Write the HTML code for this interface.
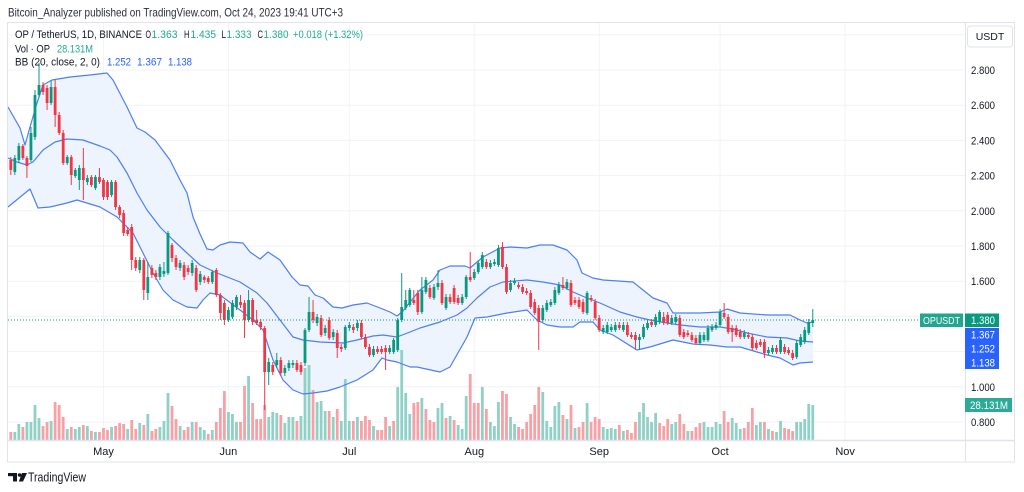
<!DOCTYPE html>
<html><head><meta charset="utf-8">
<style>
html,body{margin:0;padding:0;background:#fff;}
body{width:1024px;height:492px;overflow:hidden;}
svg{display:block;font-family:"Liberation Sans",Arial,sans-serif;}
</style></head><body>
<svg id="s" width="1024" height="492" viewBox="0 0 1024 492" xmlns="http://www.w3.org/2000/svg">
<rect x="0" y="0" width="1024" height="492" fill="#ffffff"/>
<text x="8" y="16.5" font-size="12" fill="#2a2e39" textLength="335" lengthAdjust="spacingAndGlyphs">Bitcoin_Analyzer published on TradingView.com, Oct 24, 2023 19:41 UTC+3</text>
<g stroke="#f0f3fa" stroke-width="1">
<line x1="7" x2="965" y1="34.8" y2="34.8"/><line x1="7" x2="965" y1="70" y2="70"/><line x1="7" x2="965" y1="105.2" y2="105.2"/><line x1="7" x2="965" y1="140.4" y2="140.4"/><line x1="7" x2="965" y1="175.6" y2="175.6"/><line x1="7" x2="965" y1="210.8" y2="210.8"/><line x1="7" x2="965" y1="246" y2="246"/><line x1="7" x2="965" y1="281.2" y2="281.2"/><line x1="7" x2="965" y1="316.4" y2="316.4"/><line x1="7" x2="965" y1="351.6" y2="351.6"/><line x1="7" x2="965" y1="386.8" y2="386.8"/><line x1="7" x2="965" y1="422" y2="422"/>
<line x1="103.5" x2="103.5" y1="22" y2="440"/><line x1="228.4" x2="228.4" y1="22" y2="440"/><line x1="349.3" x2="349.3" y1="22" y2="440"/><line x1="474.3" x2="474.3" y1="22" y2="440"/><line x1="599.2" x2="599.2" y1="22" y2="440"/><line x1="720.1" x2="720.1" y1="22" y2="440"/><line x1="845.1" x2="845.1" y1="22" y2="440"/>
</g>
<g id="dyn"></g>
<line x1="8" x2="920" y1="320" y2="320" stroke="#089981" stroke-width="1" stroke-dasharray="1 2"/>
<!-- frame -->
<rect x="7.5" y="22.5" width="1007" height="439.5" fill="none" stroke="#e0e3eb" stroke-width="1"/>
<line x1="965.5" x2="965.5" y1="22" y2="462" stroke="#e0e3eb" stroke-width="1"/>
<line x1="7" x2="1015" y1="440.5" y2="440.5" stroke="#e0e3eb" stroke-width="1.5"/>
<!-- legend -->
<g font-size="11" fill="#131722">
<text x="15" y="38" textLength="127" lengthAdjust="spacingAndGlyphs">OP / TetherUS, 1D, BINANCE</text>
<text x="145.5" y="38" textLength="5.5" lengthAdjust="spacingAndGlyphs">O</text><text x="151.5" y="38" fill="#22ab94" textLength="26" lengthAdjust="spacingAndGlyphs">1.363</text>
<text x="184" y="38" textLength="5.5" lengthAdjust="spacingAndGlyphs">H</text><text x="190.5" y="38" fill="#22ab94" textLength="25.5" lengthAdjust="spacingAndGlyphs">1.435</text>
<text x="221.5" y="38" textLength="4.5" lengthAdjust="spacingAndGlyphs">L</text><text x="226.5" y="38" fill="#22ab94" textLength="25" lengthAdjust="spacingAndGlyphs">1.333</text>
<text x="257.5" y="38" textLength="5.5" lengthAdjust="spacingAndGlyphs">C</text><text x="263.5" y="38" fill="#22ab94" textLength="25" lengthAdjust="spacingAndGlyphs">1.380</text>
<text x="293" y="38" fill="#22ab94" textLength="70" lengthAdjust="spacingAndGlyphs">+0.018 (+1.32%)</text>
<text x="15" y="52.5" textLength="35" lengthAdjust="spacingAndGlyphs">Vol · OP</text>
<text x="57" y="52.5" fill="#22ab94" textLength="36" lengthAdjust="spacingAndGlyphs">28.131M</text>
<text x="15" y="65.5" textLength="85" lengthAdjust="spacingAndGlyphs">BB (20, close, 2, 0)</text>
<text x="107" y="65.5" fill="#2962ff" textLength="24" lengthAdjust="spacingAndGlyphs">1.252</text>
<text x="137" y="65.5" fill="#2962ff" textLength="25" lengthAdjust="spacingAndGlyphs">1.367</text>
<text x="168" y="65.5" fill="#2962ff" textLength="24" lengthAdjust="spacingAndGlyphs">1.138</text>
</g>
<!-- price axis -->
<rect x="967.5" y="26" width="45" height="21" rx="3" fill="#fff" stroke="#e0e3eb"/>
<text x="990" y="40" font-size="10.5" fill="#131722" text-anchor="middle">USDT</text>
<g font-size="11" fill="#131722">
<text x="971" y="74" textLength="24" lengthAdjust="spacingAndGlyphs">2.800</text>
<text x="971" y="109.2" textLength="24" lengthAdjust="spacingAndGlyphs">2.600</text>
<text x="971" y="144.4" textLength="24" lengthAdjust="spacingAndGlyphs">2.400</text>
<text x="971" y="179.6" textLength="24" lengthAdjust="spacingAndGlyphs">2.200</text>
<text x="971" y="214.8" textLength="24" lengthAdjust="spacingAndGlyphs">2.000</text>
<text x="971" y="250" textLength="24" lengthAdjust="spacingAndGlyphs">1.800</text>
<text x="971" y="285.2" textLength="24" lengthAdjust="spacingAndGlyphs">1.600</text>
<text x="971" y="390.8" textLength="24" lengthAdjust="spacingAndGlyphs">1.000</text>
<text x="971" y="426" textLength="24" lengthAdjust="spacingAndGlyphs">0.800</text>
</g>
<rect x="920" y="313.5" width="43" height="13.5" fill="#22a68e"/>
<text x="941.5" y="324" font-size="10.5" fill="#fff" text-anchor="middle" textLength="37" lengthAdjust="spacingAndGlyphs">OPUSDT</text>
<rect x="965" y="313.5" width="34" height="13.5" fill="#089981"/>
<text x="971" y="324" font-size="11" fill="#fff" textLength="24" lengthAdjust="spacingAndGlyphs">1.380</text>
<rect x="965" y="328" width="34" height="41" fill="#2962ff"/>
<g font-size="11" fill="#fff">
<text x="971" y="338.5" textLength="24" lengthAdjust="spacingAndGlyphs">1.367</text>
<text x="971" y="352.5" textLength="24" lengthAdjust="spacingAndGlyphs">1.252</text>
<text x="971" y="366.5" textLength="24" lengthAdjust="spacingAndGlyphs">1.138</text>
</g>
<rect x="965" y="398" width="47" height="14" fill="#2bab96"/>
<text x="970" y="409" font-size="11" fill="#fff" textLength="38" lengthAdjust="spacingAndGlyphs">28.131M</text>
<!-- time axis -->
<g font-size="11" fill="#131722" text-anchor="middle">
<text x="103.5" y="455">May</text><text x="228.4" y="455">Jun</text><text x="349.3" y="455">Jul</text><text x="474.3" y="455">Aug</text><text x="599.2" y="455">Sep</text><text x="720.1" y="455">Oct</text><text x="845.1" y="455">Nov</text>
</g>
<!-- logo -->
<g fill="#131722">
<rect x="8" y="473" width="9" height="3.2"/><rect x="13" y="473" width="4" height="8.5"/>
<circle cx="19.6" cy="475" r="1.8"/>
<polygon points="22,473 27,473 23,481.5 18.8,481.5"/>
</g>
<text x="28" y="481.5" font-size="12.5" fill="#131722" textLength="58" lengthAdjust="spacingAndGlyphs">TradingView</text>
</svg>
<script>
(function(){
const X=i=>10.8+4.03*i;
const C=[
[0,160,170,157,175],[1,158,172,155,175],[1,146,160,143,163],[0,146,158,144,160],[0,158,166,156,178],[1,133,160,127,162],[1,95,137,90,140],[1,85,95,63,97],[0,85,92,82,95],[0,88,103,85,110],
[1,87,103,80,105],[0,87,115,80,127],[0,115,133,112,135],[0,133,163,130,165],[1,157,163,155,165],[0,157,175,155,185],[1,170,176,168,178],[1,168,180,165,190],[0,168,180,148,200],[1,178,182,175,185],
[0,177,185,175,187],[1,177,188,175,190],[0,177,182,168,184],[0,180,197,178,200],[0,182,197,180,200],[1,182,195,180,197],[0,182,207,180,210],[0,207,215,205,218],[0,213,233,210,236],[0,230,234,227,236],
[0,227,260,224,270],[0,260,268,257,271],[1,260,270,257,273],[0,260,290,258,300],[1,277,293,262,300],[0,268,275,265,278],[0,273,277,270,280],[1,267,277,264,280],[1,271,274,262,277],
[1,233,273,231,275],[0,245,258,243,262],[0,258,267,255,270],[1,263,268,260,271],[0,265,277,262,280],[0,268,272,265,275],[1,263,273,260,276],[0,268,290,265,292],[1,274,282,271,285],[0,277,280,275,283],
[0,278,282,276,284],[1,272,282,270,284],[0,270,295,268,297],[0,295,313,293,320],[0,303,320,300,325],[1,310,320,307,322],[1,303,317,300,319],[1,297,307,295,310],[0,302,305,295,308],[0,303,320,300,338],
[1,300,320,290,322],[0,300,322,298,325],[0,320,323,310,325],[0,322,327,319,330],
[0,328,372,326,410],[1,362,372,358,385],[0,365,372,362,375],[1,360,365,353,368],[0,360,373,357,376],[1,368,373,365,376],[1,363,368,360,371],[1,363,365,360,368],[0,363,370,360,372],[0,365,372,362,375],
[1,330,363,328,366],[1,312,330,297,332],[0,312,320,300,323],[1,317,323,314,326],[0,318,335,315,337],[1,328,333,325,336],[0,320,338,317,340],[1,332,337,329,340],[0,333,348,330,358],[0,347,349,344,352],
[1,327,348,325,350],[1,325,328,322,331],[0,327,330,324,333],[1,323,328,320,331],[0,323,337,320,339],[0,337,347,334,349],[0,347,355,344,357],[1,349,355,346,357],[0,349,352,346,354],[0,349,352,346,354],
[0,348,352,345,370],[1,348,352,345,354],[1,340,352,338,354],[1,320,350,318,352],[1,307,320,273,322],[1,300,308,290,310],
[1,290,305,288,307],[0,300,303,290,305],[0,293,312,290,315],[1,290,312,277,314],[1,280,292,277,294],[0,288,297,285,299],[1,287,298,284,300],[1,283,287,270,290],[0,283,303,280,305],[1,297,308,294,310],
[0,297,302,294,304],[0,288,302,285,304],[0,298,303,295,305],[1,297,303,294,305],[1,277,297,275,299],[0,277,280,252,282],[1,272,278,269,280],[1,263,272,260,274],[1,255,267,252,269],[0,262,267,259,269],
[1,263,267,260,269],[1,262,264,259,266],[1,248,265,245,267],[0,247,267,242,269],[0,267,292,264,294],[1,283,290,280,292],[1,281,283,278,285],[0,285,287,282,289],[0,287,292,284,294],[0,291,293,288,295],
[0,293,307,290,309],[0,302,313,299,315],[0,308,322,305,350],[1,308,320,305,322],[1,303,310,300,312],[1,302,305,299,307],[1,290,303,287,305],[1,285,293,282,295],[0,285,288,277,290],[1,282,288,279,290],
[0,283,305,280,307],[0,300,303,297,305],[0,300,307,297,309],[0,302,312,299,314],[1,293,313,291,315],[0,298,300,295,302],[0,302,318,299,320],[0,318,330,315,332],
[1,328,332,325,334],[1,325,332,322,334],[1,327,330,324,332],[1,325,330,322,332],[0,325,328,322,330],[1,325,330,322,332],[0,325,335,322,337],[0,335,337,332,339],[0,335,340,332,350],[1,337,340,334,350],
[1,327,337,324,339],[1,323,328,320,330],[0,322,325,319,327],[1,317,325,314,327],[1,312,322,310,324],[0,317,323,312,325],[0,315,323,312,325],[1,318,323,315,325],[1,317,322,314,324],[0,318,335,315,337],
[0,332,337,329,339],[0,333,335,330,337],[0,335,340,332,342],[0,338,343,335,345],[1,335,343,332,345],[1,335,340,332,342],[1,328,340,325,342],[1,327,330,324,332],[1,325,328,322,330],[1,312,325,309,327],
[0,313,317,303,319],[0,317,332,314,334],[0,328,332,325,342],[0,328,335,325,337],[0,332,337,329,339],[1,333,337,330,339],[0,335,337,332,339],[0,337,348,334,350],[0,343,348,340,350],[0,342,345,339,347],
[0,342,353,339,358],[1,350,353,347,355],[1,348,352,345,354],[0,348,352,345,354],[1,340,352,337,354],[0,347,352,344,354],[0,350,353,347,355],[0,353,358,350,360],[1,343,357,340,359],[1,337,345,334,347],
[1,330,342,327,344],[1,322,333,319,335],[1,320,323,309,327]
];
const V="432r,432g,424g,427r,422g,422g,405g,418g,426r,422r,421g,402r,405r,417r,429g,427r,429g,427g,425r,426g,431r,432g,432r,428r,430r,427g,426r,423r,424r,429g,420r,429r,423g,425r,414g,431r,429r,427g,421g,393g,406r,419r,426g,430r,427r,422g,422r,427g,430g,434r,430g,422r,408r,391r,412g,414g,422g,422r,386r,376g,"+
"403r,419r,419r,405r,417g,412g,413g,415r,423g,417g,417g,421r,416g,368g,365g,390r,402g,401g,411g,411r,417g,409r,421g,379g,421g,421r,417g,421r,416r,420r,426g,430r,430r,417r,426g,421r,387g,350g,393g,414g,403r,402r,398g,409r,420r,422r,408g,403g,418r,416g,420r,425g,429g,396g,374r,403r,403r,387g,409r,"+
"422g,426g,402g,391r,394r,417g,424g,427r,429r,422r,414r,405r,387r,392g,421g,427g,406g,402g,415r,419g,405r,428g,427r,422r,403g,422r,417r,419r,427g,429g,428g,429g,425r,431g,430r,433r,422r,412g,403g,417g,422g,413g,423r,426r,419r,424g,422g,414r,424r,431g,431r,427r,423r,422g,427g,427g,422g,424g,411r,422r,418g,423g,429g,428r,422r,408r,425g,422g,422r,429g,431r,432g,421g,428r,429r,431r,422g,422g,419g,404g,405g";
const up=[[8,107],[20,128],[25,145],[30,127],[37,103],[43,85],[52,80],[70,77],[90,75],[107,73],[113,80],[127,107],[137,128],[145,132],[155,140],[170,160],[180,180],[187,193],[193,217],[200,234],[207,249],[213,250],[220,245],[230,242],[243,243],[250,252],[260,259],[268,252],[280,260],[292,277],[300,285],[308,286],[315,295],[323,298],[333,307],[342,308],[353,305],[367,303],[380,308],[390,312],[397,316],[403,311],[410,302],[420,290],[433,280],[440,270],[450,266],[465,266],[470,268],[483,257],[500,248],[510,247],[527,248],[540,245],[553,245],[567,250],[577,260],[582,273],[593,278],[603,280],[633,282],[643,290],[653,298],[667,303],[673,313],[700,313],[720,312],[727,309],[740,313],[767,315],[790,315],[800,320],[807,323],[813,322]];
const md=[[8,158],[17,162],[27,165],[33,162],[43,150],[55,142],[67,139],[83,140],[100,146],[110,150],[117,157],[127,173],[137,193],[147,210],[160,227],[173,240],[187,253],[200,265],[217,273],[240,282],[257,293],[267,303],[280,320],[293,337],[303,340],[320,342],[343,343],[357,340],[373,336],[383,335],[397,337],[410,332],[420,328],[440,322],[457,315],[467,308],[477,298],[490,287],[503,282],[527,280],[543,282],[560,285],[573,292],[587,298],[600,303],[620,312],[637,317],[650,320],[667,323],[680,325],[700,327],[720,327],[733,329],[747,333],[767,337],[787,338],[800,341],[813,342]];
const lo=[[8,207],[30,189],[38,208],[50,207],[67,203],[77,200],[100,207],[117,217],[133,233],[143,253],[153,273],[163,290],[173,300],[187,307],[197,308],[203,300],[210,293],[220,295],[240,310],[253,320],[263,330],[273,360],[283,380],[293,390],[303,394],[313,393],[327,391],[340,387],[357,380],[373,370],[382,358],[387,360],[397,362],[410,367],[417,367],[440,372],[450,367],[467,337],[475,318],[487,317],[507,313],[527,310],[537,320],[547,325],[560,327],[573,327],[580,322],[593,322],[600,330],[613,335],[637,350],[650,347],[673,340],[693,344],[710,345],[727,347],[740,347],[757,352],[767,355],[780,358],[793,365],[800,363],[813,362]];
const pts=a=>a.map(p=>p[0]+','+p[1]).join(' ');
let h='';
h+='<polygon points="'+pts(up)+' '+pts(lo.slice().reverse())+'" fill="#eef4fd"/>';
V.split(',').forEach((t,i)=>{const y=parseInt(t,10);const c=t.slice(-1)==='g'?'#8fd1c6':'#f7a1a6';const x=X(i);
h+='<rect x="'+(x-1.4).toFixed(2)+'" y="'+y+'" width="2.8" height="'+(440-y)+'" fill="'+c+'"/>';});
[up,md,lo].forEach(a=>{h+='<polyline points="'+pts(a)+'" fill="none" stroke="#4d7ef7" stroke-width="1.2" stroke-linejoin="round"/>';});
C.forEach((d,i)=>{const x=X(i);const col=d[0]?'#089981':'#f23645';
h+='<line x1="'+x.toFixed(2)+'" x2="'+x.toFixed(2)+'" y1="'+d[3]+'" y2="'+d[4]+'" stroke="'+col+'" stroke-width="1"/>';
h+='<rect x="'+(x-1.4).toFixed(2)+'" y="'+d[1]+'" width="2.8" height="'+Math.max(1,d[2]-d[1])+'" fill="'+col+'"/>';});
document.getElementById('dyn').innerHTML=h;
})();
</script>
</body></html>
